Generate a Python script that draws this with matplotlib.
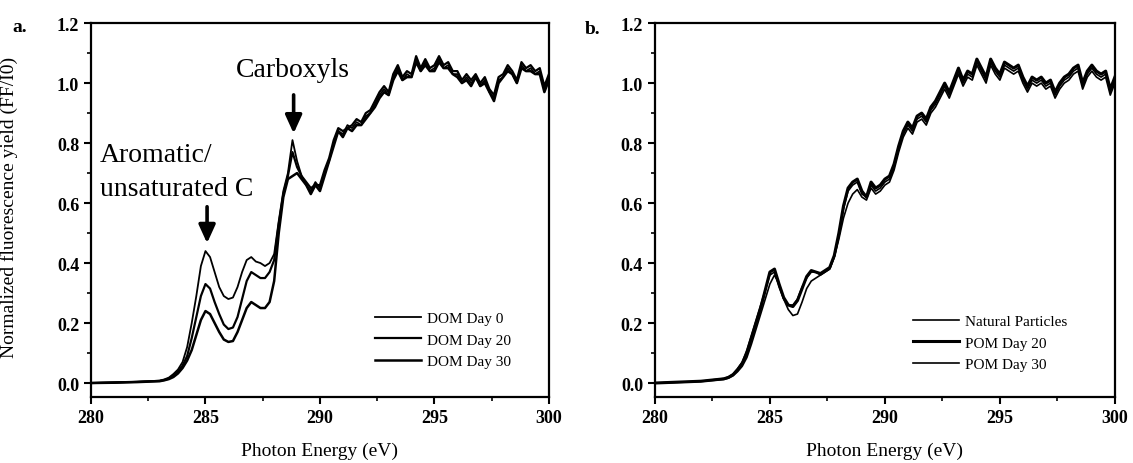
import numpy as np
import matplotlib
matplotlib.use("Agg")
from matplotlib import pyplot as plt
from matplotlib.ticker import MultipleLocator

plt.rcParams['font.family'] = ['Liberation Serif', 'DejaVu Serif']

# photon energy grid (eV): coarse pre-edge, then 0.2 eV steps
energy = [280.0, 281.0, 282.0] + list(np.round(np.arange(283.0, 300.01, 0.2), 1))

# panel a: dissolved organic matter
dom_day0 = [0.000, 0.002, 0.004,
            0.008, 0.012, 0.018, 0.030, 0.045,
            0.070, 0.120, 0.200, 0.290, 0.390,
            0.440, 0.420, 0.370, 0.320, 0.290,
            0.280, 0.285, 0.320, 0.370, 0.410,
            0.420, 0.405, 0.400, 0.390, 0.400,
            0.430, 0.540, 0.640, 0.700, 0.810,
            0.740, 0.690,
            0.66, 0.64, 0.67, 0.65,
            0.70, 0.74, 0.80, 0.84, 0.83,
            0.86, 0.85, 0.87, 0.86, 0.89,
            0.90, 0.93, 0.96, 0.98, 0.96,
            1.02, 1.05, 1.01, 1.03, 1.02,
            1.08, 1.04, 1.07, 1.04, 1.05,
            1.08, 1.05, 1.06, 1.03, 1.03,
            1.00, 1.02, 1.00, 1.02, 0.99,
            1.01, 0.97, 0.95, 1.01, 1.02,
            1.05, 1.03, 1.00, 1.06, 1.04,
            1.05, 1.03, 1.04, 0.98, 1.02]
dom_day20 = [0.000, 0.002, 0.004,
             0.007, 0.010, 0.015, 0.025, 0.038,
             0.058, 0.090, 0.150, 0.220, 0.290,
             0.330, 0.315, 0.270, 0.230, 0.195,
             0.180, 0.185, 0.220, 0.280, 0.340,
             0.370, 0.360, 0.350, 0.350, 0.370,
             0.410, 0.530, 0.630, 0.690, 0.770,
             0.720, 0.690,
             0.67, 0.65, 0.66, 0.66,
             0.71, 0.75, 0.81, 0.85, 0.84,
             0.85, 0.86, 0.88, 0.87, 0.90,
             0.91, 0.94, 0.97, 0.99, 0.97,
             1.03, 1.06, 1.02, 1.04, 1.03,
             1.09, 1.05, 1.08, 1.05, 1.06,
             1.09, 1.06, 1.07, 1.04, 1.04,
             1.01, 1.03, 1.01, 1.03, 1.00,
             1.02, 0.98, 0.96, 1.02, 1.03,
             1.06, 1.04, 1.01, 1.07, 1.05,
             1.06, 1.04, 1.05, 0.99, 1.03]
dom_day30 = [0.000, 0.001, 0.003,
             0.006, 0.009, 0.013, 0.020, 0.032,
             0.050, 0.075, 0.110, 0.160, 0.210,
             0.240, 0.230, 0.200, 0.170, 0.145,
             0.137, 0.140, 0.170, 0.210, 0.250,
             0.270, 0.260, 0.250, 0.250, 0.270,
             0.340, 0.500, 0.620, 0.680, 0.690,
             0.700, 0.680,
             0.66, 0.63, 0.66, 0.64,
             0.69, 0.74, 0.79, 0.84, 0.82,
             0.85, 0.84, 0.86, 0.86, 0.88,
             0.90, 0.92, 0.95, 0.97, 0.96,
             1.01, 1.04, 1.01, 1.02, 1.02,
             1.07, 1.04, 1.06, 1.04, 1.04,
             1.07, 1.05, 1.05, 1.03, 1.02,
             1.00, 1.01, 0.99, 1.02, 0.99,
             1.00, 0.97, 0.94, 1.00, 1.02,
             1.04, 1.03, 1.00, 1.05, 1.04,
             1.04, 1.03, 1.03, 0.97, 1.01]

# panel b: particulate organic matter
natural = [0.000, 0.003, 0.006,
           0.015, 0.020, 0.030, 0.048, 0.070,
           0.110, 0.160, 0.210, 0.260, 0.310,
           0.360, 0.370, 0.320, 0.280, 0.260,
           0.260, 0.280, 0.320, 0.350, 0.370,
           0.370, 0.360, 0.370, 0.380, 0.420,
           0.490, 0.580, 0.640, 0.660, 0.670,
           0.630, 0.620,
           0.66, 0.64, 0.65, 0.67,
           0.68, 0.72, 0.78, 0.83, 0.86,
           0.84, 0.88, 0.89, 0.87, 0.91,
           0.93, 0.96, 0.99, 0.96, 1.00,
           1.04, 1.00, 1.03, 1.02, 1.07,
           1.04, 1.01, 1.07, 1.04, 1.02,
           1.06, 1.05, 1.04, 1.05, 1.01,
           0.98, 1.01, 1.00, 1.01, 0.99,
           1.00, 0.96, 0.99, 1.01, 1.02,
           1.04, 1.05, 0.99, 1.03, 1.05,
           1.03, 1.02, 1.03, 0.97, 1.01]
pom_day20 = [0.000, 0.003, 0.006,
             0.014, 0.019, 0.028, 0.045, 0.066,
             0.100, 0.150, 0.200, 0.250, 0.310,
             0.370, 0.380, 0.330, 0.285, 0.260,
             0.255, 0.275, 0.315, 0.355, 0.375,
             0.370, 0.365, 0.375, 0.385, 0.425,
             0.500, 0.590, 0.650, 0.670, 0.680,
             0.640, 0.620,
             0.67, 0.65, 0.66, 0.68,
             0.69, 0.73, 0.79, 0.84, 0.87,
             0.85, 0.89, 0.90, 0.88, 0.92,
             0.94, 0.97, 1.00, 0.97, 1.01,
             1.05, 1.01, 1.04, 1.03, 1.08,
             1.05, 1.02, 1.08, 1.05, 1.03,
             1.07, 1.06, 1.05, 1.06, 1.02,
             0.99, 1.02, 1.01, 1.02, 1.00,
             1.01, 0.97, 1.00, 1.02, 1.03,
             1.05, 1.06, 1.00, 1.04, 1.06,
             1.04, 1.03, 1.04, 0.98, 1.02]
pom_day30 = [0.000, 0.002, 0.005,
             0.012, 0.016, 0.024, 0.038, 0.056,
             0.085, 0.130, 0.180, 0.230, 0.280,
             0.330, 0.360, 0.330, 0.280, 0.245,
             0.225, 0.230, 0.270, 0.315, 0.340,
             0.350, 0.360, 0.370, 0.380, 0.420,
             0.480, 0.550, 0.600, 0.630, 0.645,
             0.620, 0.610,
             0.65, 0.63, 0.64, 0.66,
             0.67, 0.71, 0.77, 0.82, 0.85,
             0.83, 0.87, 0.88, 0.86, 0.90,
             0.92, 0.95, 0.98, 0.95, 0.99,
             1.03, 0.99, 1.02, 1.01, 1.06,
             1.03, 1.00, 1.06, 1.03, 1.01,
             1.05, 1.04, 1.03, 1.04, 1.00,
             0.97, 1.00, 0.99, 1.00, 0.98,
             0.99, 0.95, 0.98, 1.00, 1.01,
             1.03, 1.04, 0.98, 1.02, 1.04,
             1.02, 1.01, 1.02, 0.96, 1.00]

fig = plt.figure(figsize=(11.33, 4.64), dpi=100)
ax_a = fig.add_axes([0.0803, 0.142, 0.4042, 0.806])
ax_b = fig.add_axes([0.578, 0.142, 0.406, 0.806])


def style_axes(ax):
    ax.set_xlim(280, 300)
    ax.set_ylim(-0.047, 1.2)
    ax.xaxis.set_major_locator(MultipleLocator(5))
    ax.xaxis.set_minor_locator(MultipleLocator(2.5))
    ax.yaxis.set_major_locator(MultipleLocator(0.2))
    ax.yaxis.set_minor_locator(MultipleLocator(0.1))
    ax.yaxis.set_major_formatter(plt.FormatStrFormatter('%.1f'))
    ax.tick_params(which='major', direction='out', length=5, width=1.5,
                   labelsize=13, top=False, right=False)
    ax.tick_params(which='minor', direction='out', length=3, width=1.2,
                   top=False, right=False)
    for lab in ax.get_xticklabels() + ax.get_yticklabels():
        lab.set_fontweight('bold')
    for sp in ax.spines.values():
        sp.set_linewidth(1.6)
    ax.set_xlabel('Photon Energy (eV)', fontsize=14)
    ax.xaxis.set_label_coords(0.5, -0.118)


arrow_style = dict(arrowstyle='-|>,head_width=0.5,head_length=1.1',
                   lw=2.6, color='black')

# panel a
ax_a.plot(energy, dom_day0, color='black', lw=1.3, label='DOM Day 0')
ax_a.plot(energy, dom_day20, color='black', lw=1.6, label='DOM Day 20')
ax_a.plot(energy, dom_day30, color='black', lw=1.8, label='DOM Day 30')
style_axes(ax_a)
ax_a.set_ylabel('Normalized fluorescence yield (FF/I0)', fontsize=14)
ax_a.yaxis.set_label_coords(-0.16, 0.51)

ax_a.text(288.8, 1.047, 'Carboxyls', fontsize=20, ha='center', va='center')
ax_a.annotate('', xy=(288.85, 0.823), xytext=(288.85, 0.97),
              arrowprops=arrow_style)
ax_a.text(280.39, 0.763, 'Aromatic/', fontsize=20, ha='left', va='center')
ax_a.text(280.39, 0.647, 'unsaturated C', fontsize=20, ha='left', va='center')
ax_a.annotate('', xy=(285.07, 0.457), xytext=(285.07, 0.597),
              arrowprops=arrow_style)

ax_a.legend(loc='upper left', bbox_to_anchor=(0.331, 0.326),
            bbox_transform=fig.transFigure, frameon=False, fontsize=11,
            handlelength=3.0, handletextpad=0.4, labelspacing=0.5,
            borderpad=0, borderaxespad=0)

# panel b
ax_b.plot(energy, natural, color='black', lw=1.2, label='Natural Particles')
ax_b.plot(energy, pom_day20, color='black', lw=2.2, label='POM Day 20')
ax_b.plot(energy, pom_day30, color='black', lw=1.2, label='POM Day 30')
style_axes(ax_b)

ax_b.legend(loc='upper left', bbox_to_anchor=(0.806, 0.320),
            bbox_transform=fig.transFigure, frameon=False, fontsize=11,
            handlelength=3.0, handletextpad=0.4, labelspacing=0.5,
            borderpad=0, borderaxespad=0)

fig.text(12 / 1133, 1 - 28 / 464, 'a.', fontsize=14, fontweight='bold',
         ha='left', va='center')
fig.text(585 / 1133, 1 - 30 / 464, 'b.', fontsize=14, fontweight='bold',
         ha='left', va='center')

fig.savefig('out.png', dpi=100)
